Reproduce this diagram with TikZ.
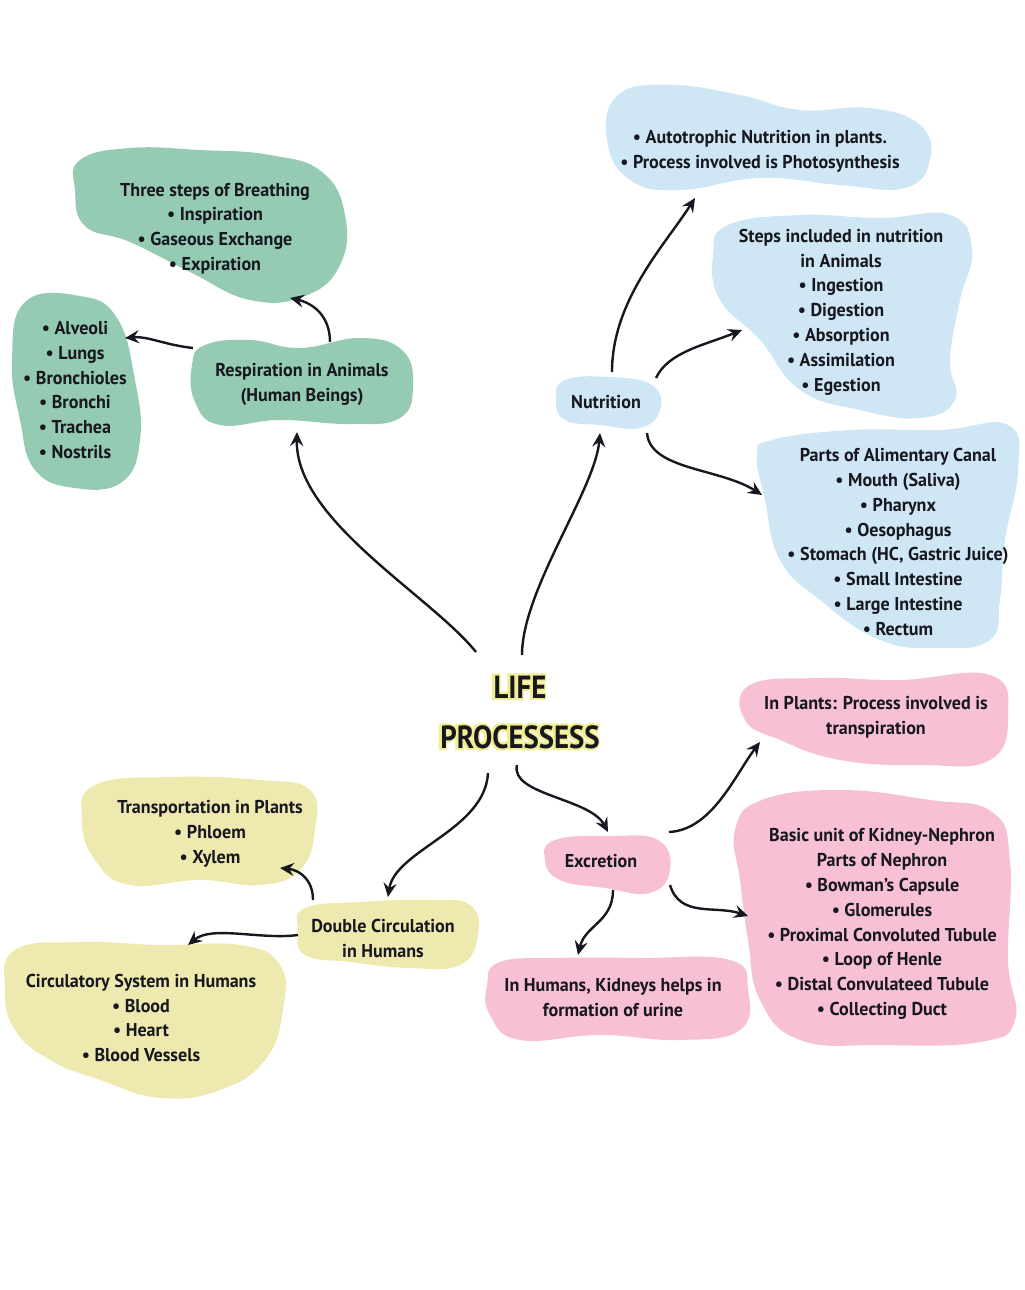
\documentclass[tikz,border=0pt]{standalone}
\usepackage{fontspec}
\setmainfont{PT Sans}[FakeStretch=0.97]
\usetikzlibrary{calc,arrows.meta}
\definecolor{greenblob}{HTML}{95CBB2}
\definecolor{blueblob}{HTML}{CFE7F5}
\definecolor{pinkblob}{HTML}{F7C0D4}
\definecolor{yellowblob}{HTML}{EEE9AF}
\definecolor{ink}{HTML}{17171F}
% yellow glow round the title letters
\newcommand{\glowtext}[1]{\special{pdf:code q 1 Tr 2.2 w 0.95 0.93 0.56 RG}#1\special{pdf:code Q}}
\tikzset{%
    every node/.style={align=center, text=ink, inner sep=0pt,
    	font=\bfseries\fontsize{9.3}{12.4}\selectfont},
    link/.style={-{Stealth[length=7pt,width=6.5pt,inset=2.5pt]},
    	line width=1.2pt, draw=ink},
    blob/.style={smooth cycle, tension=0.75},
    titlefont/.style={font=\bfseries\fontsize{16}{25}\selectfont\addfontfeatures{FakeStretch=0.9}}
}
\begin{document}
\begin{tikzpicture}[x=0.5pt, y=-0.5pt]
  \useasboundingbox (0,0) rectangle (1024,1290);

  % blobs
  \fill[greenblob] plot[blob] coordinates {(80,160) (130,148) (200,150) (270,155) (322,172) (345,215) (340,265) (305,296) (250,300) (190,272) (130,242) (85,226) (75,190)};
  \fill[greenblob] plot[blob] coordinates {(25,302) (80,296) (117,318) (135,380) (140,440) (122,482) (75,488) (35,470) (20,420) (12,360)};
  \fill[greenblob] plot[blob] coordinates {(205,345) (250,340) (300,348) (360,338) (402,350) (413,385) (400,418) (350,424) (280,420) (220,425) (195,402) (192,365)};

  \fill[blueblob] plot[blob] coordinates {(618,95) (670,85) (740,95) (800,110) (870,108) (920,125) (930,160) (905,188) (840,185) (760,178) (680,190) (630,180) (607,140)};
  \fill[blueblob] plot[blob] coordinates {(728,225) (800,215) (880,218) (950,215) (972,250) (960,300) (950,360) (955,400) (920,418) (860,410) (800,390) (760,340) (720,300) (713,255)};
  \fill[blueblob] plot[blob] coordinates {(565,380) (610,377) (652,385) (660,410) (640,428) (600,425) (565,420) (556,400)};
  \fill[blueblob] plot[blob] coordinates {(772,440) (850,430) (940,430) (1008,425) (1018,470) (1005,540) (1000,600) (990,640) (940,648) (880,640) (820,600) (780,560) (765,500) (757,455)};

  \fill[pinkblob] plot[blob] coordinates {(750,685) (820,678) (900,680) (990,675) (1008,715) (990,760) (920,765) (840,760) (780,740) (745,720)};
  \fill[pinkblob] plot[blob] coordinates {(762,800) (840,790) (930,800) (992,812) (1010,860) (1008,960) (1015,1020) (980,1042) (880,1045) (800,1040) (760,1000) (748,940) (740,880) (735,830)};
  \fill[pinkblob] plot[blob] coordinates {(555,840) (610,836) (658,840) (670,870) (650,893) (605,888) (560,880) (545,860)};
  \fill[pinkblob] plot[blob] coordinates {(500,962) (560,958) (640,958) (730,960) (748,990) (740,1030) (680,1040) (600,1035) (520,1040) (490,1015) (487,985)};

  \fill[yellowblob] plot[blob] coordinates {(95,785) (170,777) (260,780) (310,790) (315,830) (300,870) (260,885) (200,880) (130,885) (95,860) (82,820)};
  \fill[yellowblob] plot[blob] coordinates {(305,908) (360,902) (430,900) (470,905) (478,935) (460,965) (410,968) (350,962) (305,955) (298,930)};
  \fill[yellowblob] plot[blob] coordinates {(15,950) (80,942) (160,945) (240,945) (280,965) (283,1010) (265,1060) (220,1090) (160,1098) (100,1080) (50,1060) (15,1030) (5,990)};

  % centre
  \node (lifeglow) [titlefont] at (519,712) {\glowtext{LIFE}\\\glowtext{PROCESSESS}};
  \node (life) [titlefont] at (520,713) {LIFE\\PROCESSESS};

  % respiration
  \node (resp) at (302,384.5) {Respiration in Animals\\(Human Beings)};
  \node (breath) at (215,228.5) {Three steps of Breathing\\• Inspiration\\• Gaseous Exchange\\• Expiration};
  \node (lungs) at (75,390) {• Alveoli\\• Lungs\\• Bronchioles\\• Bronchi\\• Trachea\\• Nostrils};

  % nutrition
  \node (nutr) at (606,402) {Nutrition};
  \node (auto) at (760,151.5) {• Autotrophic Nutrition in plants.\\• Process involved is Photosynthesis};
  \node (steps) at (841,312) {Steps included in nutrition\\in Animals\\• Ingestion\\• Digestion\\• Absorption\\• Assimilation\\• Egestion};
  \node (canal) at (898,542) {Parts of Alimentary Canal\\• Mouth (Saliva)\\• Pharynx\\• Oesophagus\\• Stomach (HC, Gastric Juice)\\• Small Intestine\\• Large Intestine\\• Rectum};

  % excretion
  \node (excr) at (601,861) {Excretion};
  \node (transp) at (876,717.5) {In Plants: Process involved is\\transpiration};
  \node (nephron) at (882,924) {Basic unit of Kidney-Nephron\\Parts of Nephron\\• Bowman's Capsule\\• Glomerules\\• Proximal Convoluted Tubule\\• Loop of Henle\\• Distal Convulateed Tubule\\• Collecting Duct};
  \node (kidney) at (613,997.5) {In Humans, Kidneys helps in\\formation of urine};

  % transportation
  \node (dcirc) at (383,938.5) {Double Circulation\\in Humans};
  \node (plants) at (210,834) {Transportation in Plants\\• Phloem\\• Xylem};
  \node (circsys) at (141,1018) {Circulatory System in Humans\\• Blood\\• Heart\\• Blood Vessels};

  \draw[link] ($(life)+(-44,-61)$) .. controls (430,595) and (295,520) .. ($(resp)+(-5,47.5)$);
  \draw[link] ($(life)+(2,-58)$) .. controls (522,590) and (595,490) .. ($(nutr)+(-6,31)$);
  \draw[link] ($(resp)+(28,-42.5)$) .. controls (330,315) and (312,303) .. ($(breath)+(75,69.5)$);
  \draw[link] ($(resp)+(-109,-36.5)$) .. controls (165,345) and (148,336) .. ($(lungs)+(50,-52)$);

  \draw[link] ($(nutr)+(6,-30)$) .. controls (612,300) and (665,245) .. ($(auto)+(-65,46.5)$);
  \draw[link] ($(nutr)+(50,-24)$) .. controls (668,352) and (705,345) .. ($(steps)+(-99,18)$);
  \draw[link] ($(nutr)+(41,31)$) .. controls (650,470) and (720,468) .. ($(canal)+(-136,-47)$);

  \draw[link] ($(life)+(-3,52)$) .. controls (510,795) and (590,798) .. ($(excr)+(7,-29)$);
  \draw[link] ($(excr)+(68,-29)$) .. controls (712,830) and (735,775) .. ($(transp)+(-116,24.5)$);
  \draw[link] ($(excr)+(69,24)$) .. controls (680,918) and (715,905) .. ($(nephron)+(-134,-8)$);
  \draw[link] ($(excr)+(12,29)$) .. controls (613,922) and (585,925) .. ($(kidney)+(-35,-42.5)$);

  \draw[link] ($(life)+(-32,60)$) .. controls (485,830) and (395,850) .. ($(dcirc)+(5,-41.5)$);
  \draw[link] ($(dcirc)+(-70,-38.5)$) .. controls (313,880) and (300,870) .. ($(plants)+(70,34)$);
  \draw[link] ($(dcirc)+(-85,-3.5)$) .. controls (260,940) and (212,925) .. ($(circsys)+(47,-73)$);
\end{tikzpicture}
\end{document}
